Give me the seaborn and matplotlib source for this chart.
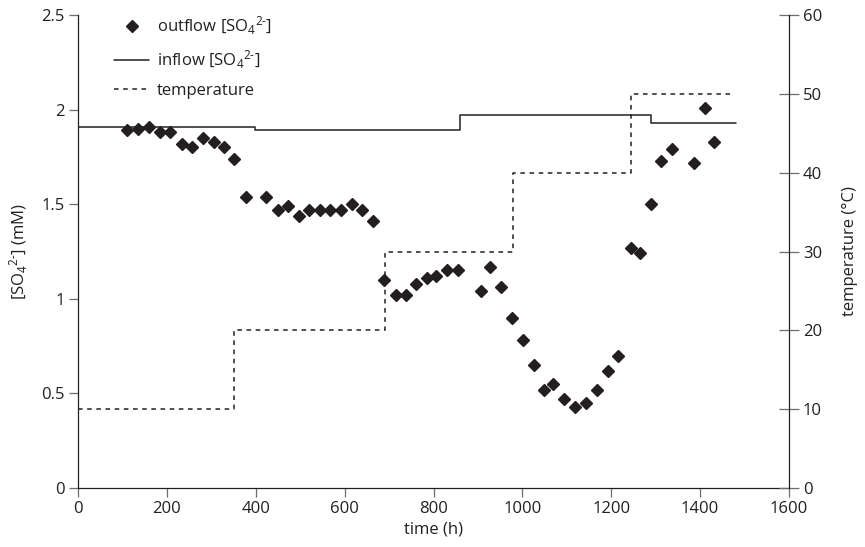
import matplotlib
matplotlib.use("Agg")
import matplotlib.pyplot as plt
import seaborn as sns
import pandas as pd
from matplotlib.lines import Line2D

# ---- data ----
time_out = [110, 135, 160, 184, 208, 234, 257, 281, 305, 328, 352, 379, 424, 449, 473,
            497, 520, 544, 568, 591, 616, 640, 664, 688, 715, 739, 761, 785, 806, 831,
            856, 906, 928, 953, 977, 1001, 1027, 1049, 1070, 1094, 1118, 1143, 1167,
            1192, 1216, 1244, 1265, 1289, 1313, 1337, 1386, 1411, 1431]
outflow = [1.89, 1.90, 1.91, 1.88, 1.88, 1.82, 1.80, 1.85, 1.83, 1.80, 1.74, 1.54, 1.54,
           1.47, 1.49, 1.44, 1.47, 1.47, 1.47, 1.47, 1.50, 1.47, 1.41, 1.10, 1.02, 1.02,
           1.08, 1.11, 1.12, 1.15, 1.15, 1.04, 1.17, 1.06, 0.90, 0.78, 0.65, 0.52, 0.55,
           0.47, 0.43, 0.45, 0.52, 0.62, 0.70, 1.27, 1.24, 1.50, 1.73, 1.79, 1.72, 2.01, 1.83]

time_in = [0, 398, 860, 1289, 1480]
inflow = [1.91, 1.89, 1.97, 1.93, 1.93]

time_temp = [0, 352, 690, 979, 1244, 1467]
temperature = [10, 20, 30, 40, 50, 50]

x_ticks = [0, 200, 400, 600, 800, 1000, 1200, 1400, 1600]
y_ticks = [0, 0.5, 1, 1.5, 2, 2.5]
y_tick_labels = ["0", "0.5", "1", "1.5", "2", "2.5"]
t_ticks = [0, 10, 20, 30, 40, 50, 60]

# ---- style ----
sns.set_style("ticks")
plt.rcParams['font.family'] = ['Open Sans', 'DejaVu Sans']
plt.rcParams['mathtext.fontset'] = 'custom'
plt.rcParams['mathtext.rm'] = 'Open Sans'
plt.rcParams['mathtext.it'] = 'Open Sans'
plt.rcParams['mathtext.default'] = 'regular'

ink = '#231f20'
tickc = '#6d6d6d'
fs = 12

fig = plt.figure(figsize=(8.65, 5.47), dpi=100)
ax = fig.add_axes([78/865, 1-488/547, (789-78)/865, (488-15)/547])
ax2 = ax.twinx()

df_out = pd.DataFrame({"time": time_out, "so4": outflow})
df_in = pd.DataFrame({"time": time_in, "so4": inflow})
df_t = pd.DataFrame({"time": time_temp, "temp": temperature})

sns.lineplot(data=df_in, x="time", y="so4", ax=ax, color=ink, lw=1.1,
             drawstyle="steps-post", estimator=None, sort=False, zorder=2)
sns.lineplot(data=df_t, x="time", y="temp", ax=ax2, color=ink, lw=1.1,
             drawstyle="steps-post", estimator=None, sort=False, zorder=2,
             dashes=False, linestyle=(0, (3, 3)))
ax.plot(df_out["time"], df_out["so4"], linestyle='none', marker='D', ms=6.4,
        color=ink, mec=ink, zorder=3)

ax.set_xlim(0, 1600)
ax.set_ylim(0, 2.5)
ax2.set_ylim(0, 60)
ax.set_xticks(x_ticks)
ax.set_xticklabels([str(v) for v in x_ticks])
ax.set_yticks(y_ticks)
ax.set_yticklabels(y_tick_labels)
ax2.set_yticks(t_ticks)
ax2.set_yticklabels([str(v) for v in t_ticks])

for a in (ax, ax2):
    a.spines['top'].set_visible(False)
    for s in a.spines.values():
        s.set_color(ink)
        s.set_linewidth(0.9)
ax.spines['right'].set_visible(False)
ax2.spines['left'].set_visible(False)
ax2.spines['bottom'].set_visible(False)
ax2.spines['right'].set_visible(True)

ax.tick_params(axis='x', which='major', direction='out', length=6.5, width=0.9,
               color=tickc, labelsize=fs, labelcolor=ink, pad=3, bottom=True, top=False)
ax.tick_params(axis='y', which='major', direction='out', length=6.5, width=0.9,
               color=tickc, labelsize=fs, labelcolor=ink, pad=3, left=True, right=False)
ax2.tick_params(axis='y', which='major', direction='inout', length=14, width=0.9,
                color=tickc, labelsize=fs, labelcolor=ink, pad=3, right=True, left=False)

ax.set_xlabel("time (h)", fontsize=fs, color=ink, labelpad=3)
ax.set_ylabel(r"[SO$_4$$^{2\text{-}}$] (mM)", fontsize=fs, color=ink, labelpad=8)
ax2.set_ylabel("temperature (°C)", fontsize=fs, color=ink, labelpad=14)

handles = [
    Line2D([], [], linestyle='none', marker='D', ms=6.4, color=ink),
    Line2D([], [], color=ink, lw=1.1),
    Line2D([], [], color=ink, lw=1.1, linestyle=(0, (3, 3))),
]
labels = [r"outflow [SO$_4$$^{2\text{-}}$]", r"inflow [SO$_4$$^{2\text{-}}$]", "temperature"]
leg = ax2.legend(handles, labels, loc='upper left', frameon=False, fontsize=fs,
                 bbox_to_anchor=(101/865, 1-1/547), bbox_transform=fig.transFigure,
                 handlelength=2.1, handletextpad=0.45, labelspacing=0.72, borderpad=0.3)
for t in leg.get_texts():
    t.set_color(ink)

fig.savefig("out.png", dpi=100)
